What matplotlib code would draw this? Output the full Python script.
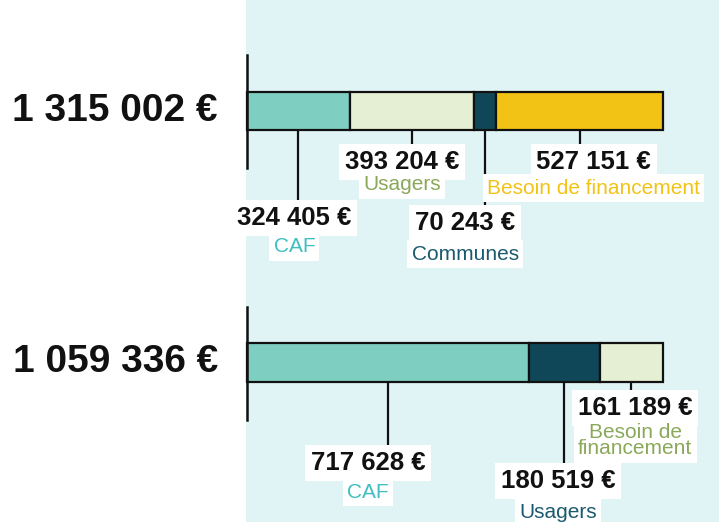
import matplotlib.pyplot as plt

totals = [1315002, 1059336]

cats_1 = ["CAF", "Usagers", "Communes", "Besoin de financement"]
vals_1 = [324405, 393204, 70243, 527151]

cats_2 = ["CAF", "Usagers", "Besoin de\nfinancement"]
vals_2 = [717628, 180519, 161189]

# styles
BG = "#e0f4f6"
TEAL, PALE, NAVY, GOLD = "#7ecec2", "#e5efd3", "#0f4759", "#f2c315"
bar_colors = [[TEAL, PALE, NAVY, GOLD], [TEAL, NAVY, PALE]]
txt_colors = [["#3fbfbf", "#8aa85a", "#1a5a6e", "#f2c315"],
              ["#3fbfbf", "#1a5a6e", "#8aa85a"]]
# label layout (pixel y of value / category, pixel x nudge)
label_y = [[(218, 247), (162, 185), (223, 254), (162, 188)],
           [(463, 492), (481, 512), (408, 441)]]
label_dx = [[-4, -10, -20, 14], [-20, -6, 4]]
bar_y = [111, 362.5]
bar_h = [38, 39]

X0, W = 247, 416  # bar start and length in pixels


def fmt(v):
    return f"{v:,}".replace(",", " ") + " €"


def main():
    plt.rcParams['font.family'] = ['Liberation Sans', 'DejaVu Sans']
    fig = plt.figure(figsize=(7.19, 5.22), dpi=100)
    ax = fig.add_axes([0, 0, 1, 1])
    ax.set_xlim(-X0 / W, (719 - X0) / W)
    ax.set_ylim(522, 0)
    ax.axis('off')

    ax.axvspan(-1.5 / W, 2, color=BG, zorder=0, lw=0)

    for i, (cats, vals) in enumerate([(cats_1, vals_1), (cats_2, vals_2)]):
        total = totals[i]
        y, h = bar_y[i], bar_h[i]
        widths = [v / total for v in vals]
        lefts = [sum(widths[:k]) for k in range(len(widths))]

        ax.barh(y, widths, left=lefts, height=h, color=bar_colors[i],
                edgecolor="#111111", linewidth=1.6, zorder=2)
        ax.plot([0, 0], [y - 56, y + 57], color="#111111", lw=1.8, zorder=2)

        ax.text(-29 / W, y, fmt(total), ha='right', va='center',
                fontsize=28, fontweight='bold', color="#111111")

        for k, (cat, v) in enumerate(zip(cats, vals)):
            mid = lefts[k] + widths[k] / 2
            ny, cy = label_y[i][k]
            cx = mid + label_dx[i][k] / W
            ax.plot([mid, mid], [y + h / 2, ny], color="#111111", lw=1.6, zorder=1)
            ax.text(cx, ny, fmt(v), ha='center', va='center', fontsize=18.5,
                    fontweight='bold', color="#111111", zorder=3,
                    bbox=dict(facecolor='white', edgecolor='none', pad=4))
            ax.text(cx, cy, cat, ha='center', va='center', fontsize=15,
                    color=txt_colors[i][k], zorder=3, linespacing=0.8,
                    bbox=dict(facecolor='white', edgecolor='none', pad=3))

    fig.savefig("out.png", dpi=100)


if __name__ == "__main__":
    main()
